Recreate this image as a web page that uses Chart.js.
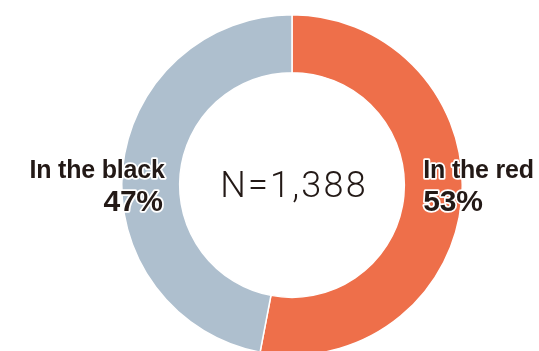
<!DOCTYPE html>
<html>
<head>
<meta charset="utf-8">
<script src="https://cdn.jsdelivr.net/npm/chart.js@4/dist/chart.umd.min.js"></script>
<style>
  html, body { margin: 0; padding: 0; background: #fff; overflow: hidden; width: 539px; height: 351px; }
  #wrap { position: absolute; left: 0; top: 0; width: 539px; height: 380px; }
</style>
</head>
<body>
<div id="wrap"><canvas id="c" width="539" height="380"></canvas></div>
<script>
const categories = ['In the red', 'In the black'];
const shares = [53, 47];
const sampleSize = 1388;
const colors = ['#EE6F4A', '#AEBFCE'];

const textColor = '#231916';

function outlinedText(ctx, str, x, y, font, align, spacing) {
  ctx.font = font;
  ctx.textAlign = align;
  ctx.textBaseline = 'alphabetic';
  ctx.letterSpacing = spacing || '0px';
  ctx.lineJoin = 'round';
  ctx.lineWidth = 3.5;
  ctx.strokeStyle = '#ffffff';
  ctx.strokeText(str, x, y);
  ctx.fillStyle = textColor;
  ctx.fillText(str, x, y);
}

const labelPlugin = {
  id: 'labels',
  afterDraw(chart) {
    const ctx = chart.ctx;
    const arc = chart.getDatasetMeta(0).data[0];
    const cx = arc.x, cy = arc.y, inner = arc.innerRadius;
    ctx.save();
    // center text
    ctx.font = '300 36px Roboto';
    ctx.textAlign = 'center';
    ctx.textBaseline = 'alphabetic';
    ctx.letterSpacing = '2.2px';
    ctx.fillStyle = textColor;
    ctx.fillText('N=' + sampleSize.toLocaleString('en-US'), cx + 2, cy + 12);
    // right label (first category)
    const bold1 = 'bold 25px "Liberation Sans", Arial, sans-serif';
    const bold2 = 'bold 30px "Liberation Sans", Arial, sans-serif';
    outlinedText(ctx, categories[0], cx + inner + 19, cy - 7, bold1, 'left', '-0.2px');
    outlinedText(ctx, shares[0] + '%', cx + inner + 19, cy + 26, bold2, 'left', '-0.3px');
    // left label (second category)
    outlinedText(ctx, categories[1], cx - inner - 15, cy - 7, bold1, 'right', '-0.2px');
    outlinedText(ctx, shares[1] + '%', cx - inner - 17, cy + 26, bold2, 'right', '-0.3px');
    ctx.restore();
  }
};

new Chart(document.getElementById('c'), {
  type: 'doughnut',
  data: {
    labels: categories,
    datasets: [{
      data: shares,
      backgroundColor: colors,
      borderColor: '#ffffff',
      borderWidth: 1.5,
      hoverOffset: 0
    }]
  },
  options: {
    responsive: false,
    animation: false,
    events: [],
    cutout: '66%',
    rotation: 0,
    layout: { padding: { left: 121, right: 76, top: 14, bottom: 24 } },
    plugins: {
      legend: { display: false },
      tooltip: { enabled: false }
    }
  },
  plugins: [labelPlugin]
});
</script>
</body>
</html>
